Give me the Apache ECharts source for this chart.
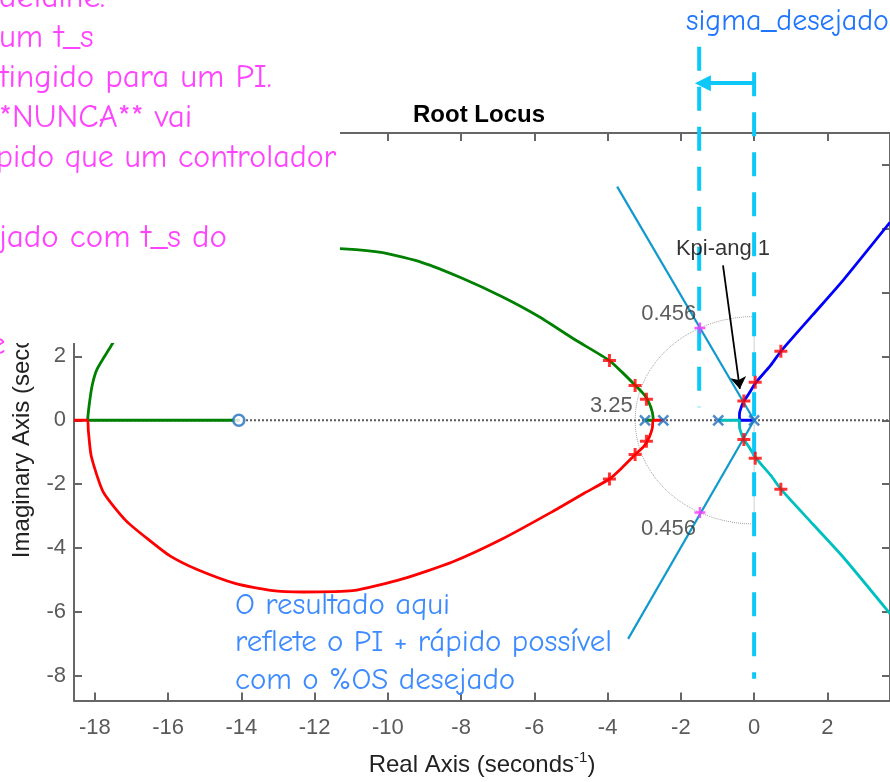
<!DOCTYPE html>
<html>
<head>
<meta charset="utf-8">
<script src="https://cdn.jsdelivr.net/npm/echarts@6/dist/echarts.min.js"></script>
<style>
  html, body { margin: 0; padding: 0; background: #fff; }
  #root-locus { width: 890px; height: 782px; }
</style>
</head>
<body>
<div id="root-locus"></div>
<script>
// tick marks of the axes
const xTicks = [-18, -16, -14, -12, -10, -8, -6, -4, -2, 0, 2];
const yTicks = [-8, -6, -4, -2, 0, 2, 4, 6, 8];

// root locus branches (real, imag)
const greenBranch = [
  [-2.98, 0], [-2.75, 0], [-2.78, 0.25], [-2.86, 0.52], [-3.0, 0.8], [-3.25, 1.1],
  [-3.6, 1.5], [-3.95, 1.87], [-4.9, 2.53], [-5.88, 3.25], [-6.88, 3.87],
  [-7.97, 4.45], [-9.06, 4.94], [-10.14, 5.25], [-11.2, 5.37], [-12.3, 5.4],
  [-13.2, 5.33], [-14.15, 5.12], [-15.24, 4.66], [-15.95, 4.25], [-16.49, 3.78],
  [-17.14, 3.16], [-17.53, 2.38], [-17.94, 1.6], [-18.08, 1.06], [-18.16, 0.44],
  [-18.2, 0], [-14.07, 0]
];
const redBranch = [
  [-2.48, 0], [-2.75, 0], [-2.78, -0.25], [-2.86, -0.52], [-3.0, -0.8], [-3.25, -1.08],
  [-3.6, -1.48], [-3.95, -1.84], [-4.63, -2.28], [-5.52, -2.87], [-6.88, -3.72],
  [-8.24, -4.44], [-9.6, -4.97], [-10.96, -5.34], [-12.32, -5.38], [-13.2, -5.33],
  [-14.15, -5.12], [-15.24, -4.66], [-15.95, -4.25], [-16.49, -3.78], [-17.14, -3.16],
  [-17.77, -2.25], [-18.1, -1.12], [-18.18, -0.3], [-18.2, 0], [-18.57, 0]
];
const blueBranch = [
  [0, 0], [-0.4, 0], [-0.4, 0.2], [-0.36, 0.38], [-0.28, 0.6], [-0.15, 0.82],
  [-0.04, 1.03], [0.05, 1.19], [0.45, 1.72], [0.73, 2.16], [1.6, 3.3], [2.44, 4.4], [3.71, 6.2]
];
const tealBranch = [
  [-0.98, 0], [-0.4, 0], [-0.4, -0.2], [-0.36, -0.38], [-0.28, -0.6], [-0.15, -0.82],
  [-0.04, -1.03], [0.05, -1.19], [0.45, -1.72], [0.73, -2.16], [1.6, -3.25], [2.44, -4.3], [3.71, -6.06]
];

const openLoopPoles = [[-2.98, 0], [-2.48, 0], [-0.98, 0], [0, 0]];
const openLoopZeros = [[-14.07, 0]];
const closedLoopPoles = [
  [-3.95, 1.87], [-3.25, 1.09], [-2.94, 0.66], [-2.94, -0.66], [-3.25, -1.07], [-3.95, -1.84],
  [-0.28, 0.6], [0.03, 1.19], [0.73, 2.16], [-0.28, -0.6], [0.03, -1.19], [0.73, -2.16]
];

// sgrid: damping 0.456, wn 3.25
const zetaUpper = [[0, 0], [-3.74, 7.32]];
const zetaLower = [[0, 0], [-3.44, -6.85]];
const zetaMarks = [[-1.48, 2.89], [-1.48, -2.89]];
const wnRadius = 3.25;
const realAxisLine = [[-18.57, 0], [3.71, 0]];
const imagAxisLine = [[0, 3.25], [0, -3.25]];

// sigma lines and arrows
const sigmaDesejado = [[-1.5, 11.7], [-1.5, 0.41]];
const sigmaAtual = [[0, 10.9], [0, -8.1]];
const sigmaArrow = [[0, 10.56], [-1.4, 10.56]];
const kpiArrow = [[-0.85, 4.85], [-0.39, 0.98]];

const gridLabels = [
  { name: "0.456", value: [-2.33, 3.34] },
  { name: "0.456", value: [-2.34, -3.4] },
  { name: "3.25", value: [-3.9, 0.44] }
];
const kpiLabel = [{ name: "Kpi-ang 1", value: [-0.85, 5.38] }];

const pinkLines = [
  "detalhe.", "um t_s", "tingido para um PI.", "*NUNCA** vai",
  "pido que um controlador", "", "jado com t_s do"
];
const blueLines = [
  "O resultado aqui", "reflete o PI + rápido possível", "com o %OS desejado"
];

const wnCircle = [];
for (let a = 90; a <= 270; a += 5) {
  const t = a * Math.PI / 180;
  wnCircle.push([wnRadius * Math.cos(t), wnRadius * Math.sin(t)]);
}

const matlabFont = '"Liberation Sans", Arial, Helvetica, sans-serif';
const handFont = '"Comic Sans MS", "Comic Neue", "DejaVu Sans", sans-serif';
const xMark = "path://M0,0L10,10M10,0L0,10";
const plusMark = "path://M5,0L5,10M0,5L10,5";

const chart = echarts.init(document.getElementById("root-locus"));

function branch(data, color) {
  return {
    type: "line",
    data: data,
    showSymbol: false,
    smooth: 0.2,
    z: 3,
    lineStyle: { color: color, width: 2.8 }
  };
}

function plainLine(data, color, width, type, z) {
  return {
    type: "line",
    data: data,
    showSymbol: false,
    z: z,
    lineStyle: { color: color, width: width, type: type }
  };
}

const axisGray = "#666";
const axisLine = { onZero: false, lineStyle: { color: axisGray, width: 2 } };
const nameStyle = {
  color: "#222", fontSize: 24, fontFamily: matlabFont,
  rich: { sup: { fontSize: 15, fontFamily: matlabFont, color: "#222", padding: [0, 0, 14, 0] } }
};

let graphics = [
  {
    type: "rect",
    z: 100,
    shape: { x: 0, y: 0, width: 340, height: 343 },
    style: { fill: "#fff" }
  }
];
const pinkY = [-2, 38, 78, 118, 158, 198, 238];
pinkLines.forEach((t, i) => {
  graphics.push({
    type: "text", z: 101, x: i === 4 ? -4 : -1, y: pinkY[i],
    style: { text: t, fill: "#ff44ff", font: (i === 4 ? "32px " : "33px ") + handFont, textVerticalAlign: "middle" }
  });
});
graphics.push({
  type: "text", z: 101, x: -11, y: 345,
  style: { text: "e", fill: "#ff44ff", font: "33px " + handFont, textVerticalAlign: "middle" }
});
const blueY = [605, 642, 680];
blueLines.forEach((t, i) => {
  graphics.push({
    type: "text", z: 101, x: 235, y: blueY[i],
    style: { text: t, fill: "#3d8bff", font: "31px " + handFont, textVerticalAlign: "middle" }
  });
});
graphics.push({
  type: "text", z: 101, x: 686, y: 22,
  style: { text: "sigma_desejado", fill: "#1f75fe", font: "30px " + handFont, textVerticalAlign: "middle" }
});

let option = {
  animation: false,
  title: {
    text: "Root Locus",
    left: 474,
    top: 98,
    textAlign: "center",
    textStyle: { color: "#000", fontSize: 24, fontWeight: "bold", fontFamily: matlabFont }
  },
  grid: { left: 70, right: 0, top: 133, bottom: 80 },
  xAxis: [
    {
      type: "value", min: -18.57, max: 3.71, position: "bottom",
      name: "Real Axis (seconds{sup|-1})",
      nameLocation: "middle",
      nameGap: 50,
      nameTextStyle: nameStyle,
      axisLine: axisLine,
      axisTick: { inside: true, length: 8, lineStyle: { color: axisGray, width: 2 }, customValues: xTicks },
      axisLabel: { customValues: xTicks, color: "#5a5a5a", fontSize: 22, fontFamily: matlabFont, margin: 16 },
      splitLine: { show: false }
    },
    {
      type: "value", min: -18.57, max: 3.71, position: "top",
      axisLine: axisLine,
      axisTick: { inside: true, length: 8, lineStyle: { color: axisGray, width: 2 }, customValues: xTicks },
      axisLabel: { show: false },
      splitLine: { show: false }
    }
  ],
  yAxis: [
    {
      type: "value", min: -8.78, max: 9.0, position: "left",
      name: "Imaginary Axis (seconds{sup|-1})",
      nameLocation: "middle",
      nameGap: 37,
      nameRotate: 90,
      nameTextStyle: nameStyle,
      axisLine: axisLine,
      axisTick: { inside: true, length: 8, lineStyle: { color: axisGray, width: 2 }, customValues: yTicks },
      axisLabel: { customValues: yTicks, color: "#5a5a5a", fontSize: 22, fontFamily: matlabFont, margin: 8 },
      splitLine: { show: false }
    },
    {
      type: "value", min: -8.78, max: 9.0, position: "right",
      axisLine: axisLine,
      axisTick: { inside: true, length: 8, lineStyle: { color: axisGray, width: 2 }, customValues: yTicks },
      axisLabel: { show: false },
      splitLine: { show: false }
    }
  ],
  graphic: graphics,
  series: [
    plainLine(realAxisLine, "#5a5a5a", 2, "dotted", 1),
    plainLine(wnCircle, "#a0a0a0", 1, "dotted", 1),
    plainLine(imagAxisLine, "#a0a0a0", 1, "dotted", 1),
    branch(greenBranch, "#008000"),
    branch(redBranch, "#ff0000"),
    branch(blueBranch, "#0000ff"),
    branch(tealBranch, "#00bfbf"),
    plainLine(zetaUpper, "#1199cc", 2.2, "solid", 4),
    plainLine(zetaLower, "#1199cc", 2.2, "solid", 4),
    {
      type: "line", data: sigmaDesejado, showSymbol: false, clip: false, z: 4,
      lineStyle: { color: "#0cc8f8", width: 4, type: [24, 16] }
    },
    {
      type: "line", data: sigmaAtual, showSymbol: false, clip: false, z: 4,
      lineStyle: { color: "#0cc8f8", width: 4, type: [24, 16] }
    },
    {
      type: "lines", coordinateSystem: "cartesian2d", clip: false, z: 6,
      symbol: ["none", "triangle"], symbolSize: [16, 16],
      lineStyle: { color: "#0cc8f8", width: 4, opacity: 1 },
      data: [{ coords: sigmaArrow }]
    },
    {
      type: "lines", coordinateSystem: "cartesian2d", clip: false, z: 6,
      symbol: ["none", "arrow"], symbolSize: 12,
      lineStyle: { color: "#000", width: 1.8, opacity: 1 },
      data: [{ coords: kpiArrow }]
    },
    {
      type: "scatter", data: openLoopPoles, symbol: xMark, symbolSize: 10, z: 5,
      itemStyle: { color: "rgba(0,0,0,0)", borderColor: "#1f6fbf", borderWidth: 2.5 }
    },
    {
      type: "scatter", data: openLoopZeros, symbol: "circle", symbolSize: 11, z: 5,
      itemStyle: { color: "#fff", borderColor: "#1f6fbf", borderWidth: 2.5 }
    },
    {
      type: "scatter", data: closedLoopPoles, symbol: plusMark, symbolSize: 13, z: 5,
      itemStyle: { color: "rgba(0,0,0,0)", borderColor: "#ff0000", borderWidth: 3 }
    },
    {
      type: "scatter", data: zetaMarks, symbol: plusMark, symbolSize: 11, z: 5,
      itemStyle: { color: "rgba(0,0,0,0)", borderColor: "#ff33ff", borderWidth: 2.5 }
    },
    {
      type: "scatter", data: gridLabels, symbolSize: 1, z: 5,
      itemStyle: { color: "rgba(0,0,0,0)" },
      label: {
        show: true, position: "inside", formatter: "{b}",
        color: "#333", fontSize: 22, fontFamily: matlabFont
      }
    },
    {
      type: "scatter", data: kpiLabel, symbolSize: 1, z: 5,
      itemStyle: { color: "rgba(0,0,0,0)" },
      label: {
        show: true, position: "inside", formatter: "{b}",
        color: "#000", fontSize: 22, fontFamily: matlabFont
      }
    }
  ]
};

chart.setOption(option);
</script>
</body>
</html>
